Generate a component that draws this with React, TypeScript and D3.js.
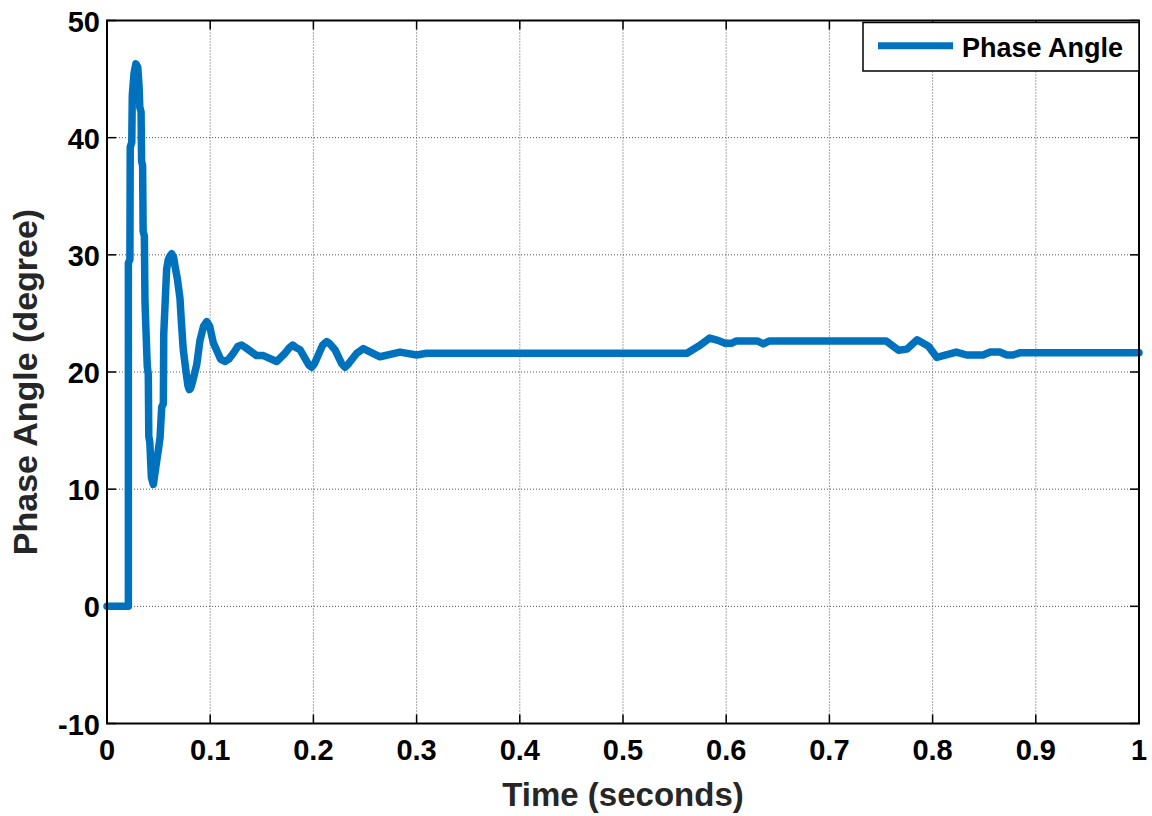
import React from "react";
import * as d3 from "d3";

const timeS: number[] = [
  0, 0.0207, 0.0207, 0.0222, 0.0225, 0.024, 0.0245, 0.0262, 0.028, 0.0298, 0.031, 0.0318, 0.033, 0.0335,
  0.0345, 0.035, 0.0362, 0.0368, 0.039, 0.04, 0.0405, 0.0415, 0.043, 0.0449, 0.0475, 0.05, 0.0514, 0.053,
  0.0546, 0.055, 0.0578, 0.0594, 0.061, 0.0627, 0.0645, 0.066, 0.0681, 0.0707, 0.072, 0.0739, 0.0772, 0.0785, 0.0797,
  0.081, 0.083, 0.0869, 0.0901, 0.0935, 0.0966, 0.0995, 0.103, 0.11, 0.1143, 0.118, 0.1224, 0.127, 0.1305,
  0.134, 0.145, 0.1515, 0.1644, 0.1725, 0.177, 0.18, 0.183, 0.187,
  0.1955, 0.1984, 0.201, 0.209, 0.2129, 0.216, 0.2209, 0.2275, 0.2306, 0.234, 0.242, 0.2484, 0.2645, 0.2839, 0.3001,
  0.3098, 0.562, 0.575, 0.584, 0.592, 0.599,
  0.605, 0.61, 0.63, 0.636, 0.642, 0.755, 0.767, 0.775, 0.785, 0.796, 0.804, 0.823, 0.833, 0.849, 0.856,
  0.865, 0.872, 0.878, 0.885, 1.0,
];
const phaseDeg: number[] = [
  0, 0, 29.3, 29.6, 39.2, 39.6, 43.6, 45.5, 46.3, 46.0, 44.5, 42.6, 42.2, 38.0,
  37.6, 32.0, 31.6, 26.0, 20.5, 19.8, 14.5, 14.0, 11.0, 10.4, 12.0, 13.5, 14.4, 17.0,
  17.3, 23.3, 28.8, 29.6, 29.9, 30.1, 29.8, 29.0, 28.0, 26.3, 24.4, 21.9, 19.6, 18.8, 18.5,
  18.6, 19.2, 20.6, 22.7, 23.9, 24.3, 23.9, 22.5, 21.1, 20.9, 21.1, 21.6, 22.2, 22.3,
  22.1, 21.4, 21.4, 20.9, 21.6, 22.1, 22.3, 22.1, 21.9,
  20.6, 20.4, 20.7, 22.3, 22.6, 22.4, 21.9, 20.7, 20.4, 20.7, 21.6, 22.0, 21.3, 21.7, 21.45,
  21.6, 21.6, 22.3, 22.9, 22.7, 22.45,
  22.45, 22.65, 22.65, 22.4, 22.65, 22.65, 21.85, 21.95, 22.75, 22.2, 21.25, 21.7, 21.45, 21.45, 21.7,
  21.7, 21.45, 21.45, 21.65, 21.65,
];
const xTicks: number[] = [0, 0.1, 0.2, 0.3, 0.4, 0.5, 0.6, 0.7, 0.8, 0.9, 1];
const xTickLabels: string[] = ["0", "0.1", "0.2", "0.3", "0.4", "0.5", "0.6", "0.7", "0.8", "0.9", "1"];
const yTicks: number[] = [-10, 0, 10, 20, 30, 40, 50];
const seriesName = "Phase Angle";
const xLabel = "Time (seconds)";
const yLabel = "Phase Angle (degree)";

const W = 1152;
const H = 816;
const L = 107, R = 1139, T = 20.5, B = 723.5;
const FONT = "'Liberation Sans', Arial, sans-serif";
const LINE = "#0072BD";

export default function App() {
  const x = d3.scaleLinear().domain([0, 1]).range([L, R]);
  const y = d3.scaleLinear().domain([-10, 50]).range([B, T]);
  const pts = timeS.map((t, i) => [t, phaseDeg[i]] as [number, number]);
  const line = d3.line<[number, number]>().x((d) => x(d[0])).y((d) => y(d[1]));
  const tickLen = 9;
  return (
    <svg width={W} height={H} style={{ position: "absolute", left: 0, top: 0, background: "#fff" }}>
      <rect x={0} y={0} width={W} height={H} fill="#fff" />
      {xTicks.slice(1, -1).map((t) => (
        <line key={"gx" + t} x1={x(t)} x2={x(t)} y1={T} y2={B} stroke="#555" strokeWidth={1} strokeDasharray="1,2" />
      ))}
      {yTicks.slice(1, -1).map((v) => (
        <line key={"gy" + v} x1={L} x2={R} y1={y(v)} y2={y(v)} stroke="#555" strokeWidth={1} strokeDasharray="1,2" />
      ))}
      {xTicks.map((t) => (
        <g key={"tx" + t}>
          <line x1={x(t)} x2={x(t)} y1={B} y2={B - tickLen} stroke="#000" strokeWidth={1.5} />
          <line x1={x(t)} x2={x(t)} y1={T} y2={T + tickLen} stroke="#000" strokeWidth={1.5} />
        </g>
      ))}
      {yTicks.map((v) => (
        <g key={"ty" + v}>
          <line x1={L} x2={L + tickLen} y1={y(v)} y2={y(v)} stroke="#000" strokeWidth={1.5} />
          <line x1={R} x2={R - tickLen} y1={y(v)} y2={y(v)} stroke="#000" strokeWidth={1.5} />
        </g>
      ))}
      <path d={line(pts) || ""} fill="none" stroke={LINE} strokeWidth={7.5} strokeLinejoin="round" strokeLinecap="round" />
      <rect x={L} y={T} width={R - L} height={B - T} fill="none" stroke="#000" strokeWidth={2} />
      {xTicks.map((t, i) => (
        <text key={"lx" + t} x={x(t)} y={760} textAnchor="middle" fontFamily={FONT} fontWeight="bold" fontSize={29} fill="#000">
          {xTickLabels[i]}
        </text>
      ))}
      {yTicks.map((v) => (
        <text key={"ly" + v} x={L - 7} y={y(v) + 11} textAnchor="end" fontFamily={FONT} fontWeight="bold" fontSize={29} fill="#000">
          {v}
        </text>
      ))}
      <text x={(L + R) / 2} y={806} textAnchor="middle" fontFamily={FONT} fontWeight="bold" fontSize={33} fill="#262626">
        {xLabel}
      </text>
      <text transform={`translate(37,${(T + B) / 2 + 10}) rotate(-90)`} textAnchor="middle" fontFamily={FONT} fontWeight="bold" fontSize={34} fill="#262626">
        {yLabel}
      </text>
      <rect x={863} y={22.5} width={276} height={48.5} fill="#fff" stroke="#000" strokeWidth={1.5} />
      <line x1={878} x2={953} y1={45.7} y2={45.7} stroke={LINE} strokeWidth={7} />
      <text x={962} y={57} fontFamily={FONT} fontWeight="bold" fontSize={27} fill="#000">
        {seriesName}
      </text>
    </svg>
  );
}
